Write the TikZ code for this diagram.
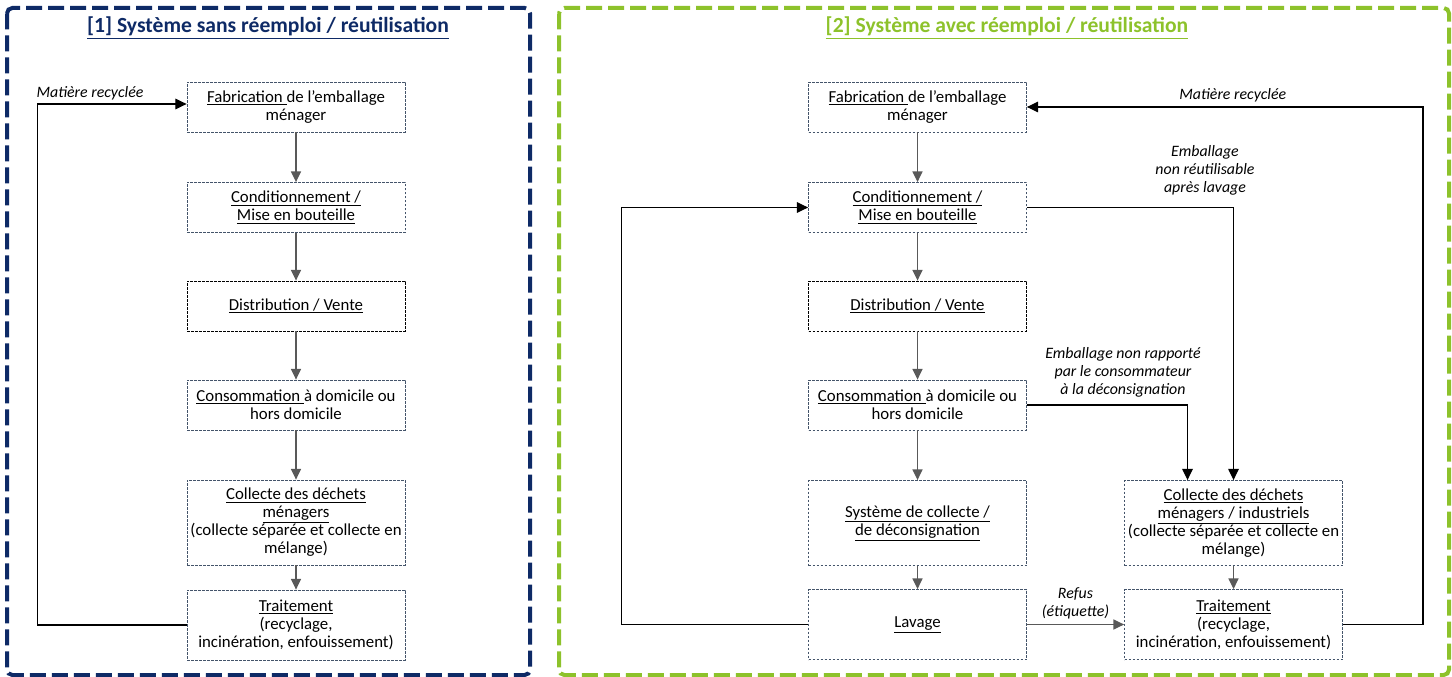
\documentclass[tikz,border=0pt]{standalone}
\usepackage{fontspec}
\setmainfont{Carlito}
\usepackage{xcolor}
\usetikzlibrary{arrows.meta}
\definecolor{navyframe}{HTML}{0E2A66}
\definecolor{greenframe}{HTML}{8DC22B}
\definecolor{boxline}{HTML}{44546A}
\definecolor{flowgray}{HTML}{595959}

\begin{document}
\begin{tikzpicture}[x=0.75pt,y=-0.75pt,
  stage/.style={draw=boxline,dash pattern=on 2pt off 1pt,line width=0.6pt,
    minimum width=163.5pt,minimum height=37.5pt,inner sep=1pt,align=center,
    font=\fontsize{12.6}{13.5}\selectfont},
  tall/.style={minimum height=63.75pt},
  mid/.style={minimum height=52.5pt},
  flow/.style={-{Triangle[length=8pt,width=7.5pt]},draw=flowgray,line width=1.1pt},
  loop/.style={-{Triangle[length=8.5pt,width=8pt]},draw=black,line width=0.9pt},
  note/.style={font=\fontsize{11.9}{13.5}\selectfont\itshape,align=center},
  frame/.style={line width=3pt,dash pattern=on 12pt off 4.5pt,rounded corners=4pt},
  heading/.style={font=\fontsize{16.2}{18}\selectfont\bfseries}]
\useasboundingbox (0,0) rectangle (1452,677);
\draw[frame,navyframe] (7,8) rectangle (530,675);
\draw[frame,greenframe] (559,8) rectangle (1449,675);
\node[heading,text=navyframe] (title1) at (268,28) {\underline{[1] Système sans réemploi / réutilisation}};
\node[heading,text=greenframe] (title2) at (1007,28) {\underline{[2] Système avec réemploi / réutilisation}};
% [1] sans reemploi
\node[stage] (fab1) at (296,107) {\underline{Fabrication }de l’emballage\\ménager};
\node[stage] (cond1) at (296,207.5) {\underline{Conditionnement /}\\\underline{Mise en bouteille}};
\node[stage,draw=black] (dist1) at (296,306) {\underline{Distribution / Vente}};
\node[stage] (cons1) at (296,405) {\underline{Consommation }à domicile ou\\hors domicile};
\node[stage,tall] (coll1) at (296,522.5) {\underline{Collecte des déchets}\\\underline{ménagers}\\(collecte séparée et collecte en\\mélange)};
\node[stage,mid] (trait1) at (296,625) {\underline{Traitement}\\(recyclage,\\incinération, enfouissement)};
\draw[flow] (fab1) -- (cond1);
\draw[flow] (cond1) -- (dist1);
\draw[flow] (dist1) -- (cons1);
\draw[flow] (cons1) -- (coll1);
\draw[flow] (coll1) -- (trait1);
\draw[loop] (trait1.west) -- ++(-149,0) |- ([yshift=2.25pt]fab1.west);
\node[note] (recyc1) at (90,93) {Matière recyclée};
% [2] avec reemploi
\node[stage] (fab2) at (917.5,107) {\underline{Fabrication }de l’emballage\\ménager};
\node[stage] (cond2) at (917.5,207.5) {\underline{Conditionnement /}\\\underline{Mise en bouteille}};
\node[stage,draw=black] (dist2) at (917.5,306) {\underline{Distribution / Vente}};
\node[stage] (cons2) at (917.5,405) {\underline{Consommation }à domicile ou\\hors domicile};
\node[stage,tall] (sys2) at (917.5,523) {\underline{Système de collecte /}\\\underline{de déconsignation}};
\node[stage,mid] (lav2) at (917.5,624.5) {\underline{Lavage}};
\node[stage,tall] (coll2) at (1233.5,523) {\underline{Collecte des déchets}\\\underline{ménagers / industriels}\\(collecte séparée et collecte en\\mélange)};
\node[stage,mid] (trait2) at (1233.5,624.5) {\underline{Traitement}\\(recyclage,\\incinération, enfouissement)};
\draw[flow] (fab2) -- (cond2);
\draw[flow] (cond2) -- (dist2);
\draw[flow] (dist2) -- (cons2);
\draw[flow] (cons2) -- (sys2);
\draw[flow] (sys2) -- (lav2);
\draw[flow] (coll2) -- (trait2);
\draw[flow,line width=0.9pt] (lav2) -- node[note,above] {Refus\\(étiquette)} (trait2);
\draw[loop] (lav2.west) -- ++(-187,0) |- (cond2.west);
\draw[loop] (trait2.east) -- ++(80,0) |- node[note,pos=0.74,above] {Matière recyclée} (fab2.east);
\draw[loop] (cond2.east) -| (coll2.north);
\draw[loop] (cons2.east) -| ([xshift=-34.5pt]coll2.north);
\node[note] (nonreut) at (1205,170) {Emballage\\non réutilisable\\après lavage};
\node[note] (nonrapp) at (1123,372) {Emballage non rapporté\\par le consommateur\\à la déconsignation};
\end{tikzpicture}
\end{document}
